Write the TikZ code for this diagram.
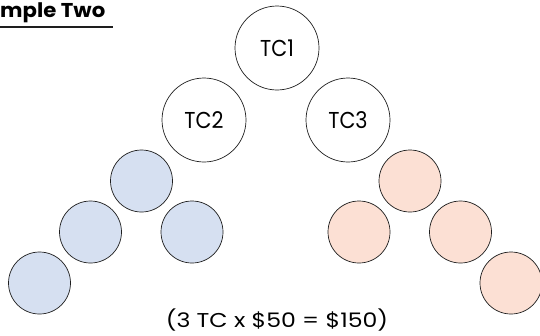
\documentclass[tikz,border=0pt]{standalone}
\usepackage{fontspec}
\setmainfont{Poppins}
\definecolor{bluefill}{RGB}{214,224,241}
\definecolor{peachfill}{RGB}{252,224,212}
\definecolor{linegray}{RGB}{30,30,30}
\begin{document}
\begin{tikzpicture}[x=1pt,y=-1pt,
  tc/.style={circle,draw=linegray,line width=0.7pt,minimum size=84pt,inner sep=0pt},
  tclabel/.style={font=\fontsize{23}{27}\selectfont,xscale=0.9,inner sep=0pt},
  coin/.style={circle,draw=linegray,line width=0.7pt,minimum size=62pt,inner sep=0pt},
  bluecoin/.style={coin,fill=bluefill},
  peachcoin/.style={coin,fill=peachfill}]
\useasboundingbox (0,0) rectangle (540,335);
\node[tc] (tc1) at (277,48) {};
\node[tc] (tc2) at (204,120) {};
\node[tc] (tc3) at (348,120) {};
\node[tclabel] (l1) at (tc1.center) {TC1};
\node[tclabel] (l2) at (tc2.center) {TC2};
\node[tclabel] (l3) at (tc3.center) {TC3};
\node[bluecoin] (b1) at (141.5,181) {};
\node[bluecoin] (b2) at (90.5,232) {};
\node[bluecoin] (b3) at (192,232) {};
\node[bluecoin] (b4) at (39.5,283) {};
\node[peachcoin] (p1) at (410,181) {};
\node[peachcoin] (p2) at (359,232) {};
\node[peachcoin] (p3) at (460.5,232) {};
\node[peachcoin] (p4) at (511,283) {};
\node[font=\fontsize{20}{24}\selectfont,xscale=1.18] (total) at (277,320) {(3 TC x \$50 = \$150)};
\node[font=\fontsize{20}{24}\selectfont\bfseries,anchor=base west,inner sep=0pt,xscale=1.06] (title) at (0,17) {mple Two};
\draw[line width=1.4pt,color=linegray] (0,27) coordinate (ul1) -- (113,27) coordinate (ul2);
\end{tikzpicture}
\end{document}
